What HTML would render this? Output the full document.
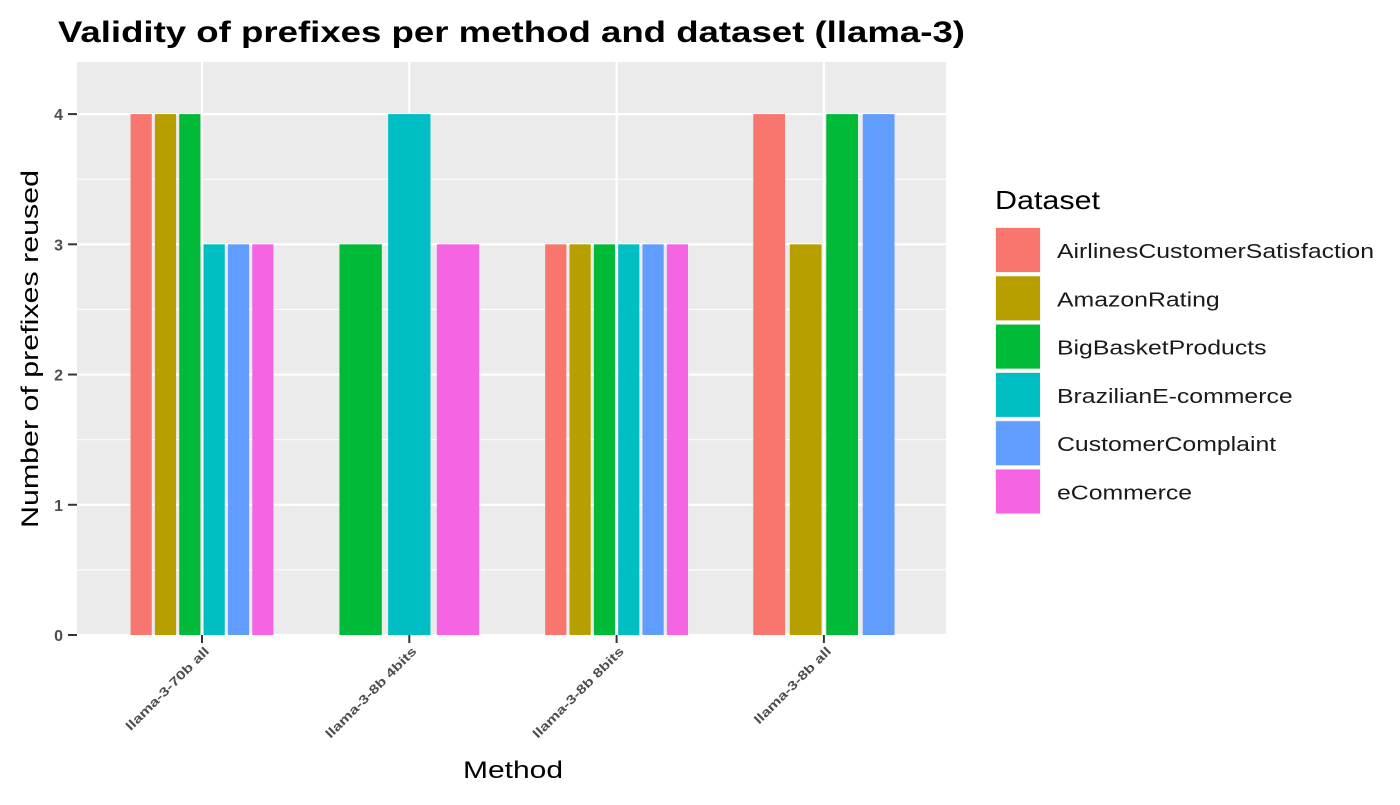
<!DOCTYPE html>
<html><head><meta charset="utf-8"><style>
body{margin:0;background:#fff;}
svg text{font-family:"Liberation Sans",Arial,sans-serif;}
</style></head><body>
<svg id="chart" width="1400" height="800" xmlns="http://www.w3.org/2000/svg">
<rect width="1400" height="800" fill="#fff"/>
<text x="58" y="42" font-size="30" font-weight="bold" fill="#000" textLength="907" lengthAdjust="spacingAndGlyphs">Validity of prefixes per method and dataset (llama-3)</text>
<rect x="77" y="62" width="869" height="573" fill="#EBEBEB"/>
<g id="grid"></g>
<g id="bars"></g>
<g id="axes"></g>
<text transform="translate(38,349) rotate(-90)" text-anchor="middle" font-size="24" fill="#000" textLength="358" lengthAdjust="spacingAndGlyphs">Number of prefixes reused</text>
<text x="513" y="778" text-anchor="middle" font-size="24" fill="#000" textLength="100" lengthAdjust="spacingAndGlyphs">Method</text>
<g id="legend"></g>
</svg>
<script>
const categories = ["llama-3-70b all","llama-3-8b 4bits","llama-3-8b 8bits","llama-3-8b all"];
const datasets = ["AirlinesCustomerSatisfaction","AmazonRating","BigBasketProducts","BrazilianE-commerce","CustomerComplaint","eCommerce"];
const colors = ["#F8766D","#B79F00","#00BA38","#00BFC4","#619CFF","#F564E3"];
const airlines = [4,null,3,4];
const amazon = [4,null,3,3];
const bigbasket = [4,3,3,4];
const brazilian = [3,4,3,null];
const complaint = [3,null,3,4];
const ecommerce = [3,3,3,null];
const yTicks = [0,1,2,3,4];
const series = [airlines,amazon,bigbasket,brazilian,complaint,ecommerce];

const NS="http://www.w3.org/2000/svg";
const px0=77, px1=946, py0=635, yMax=4.4, yTop=62;
const step=207.3;
const xC=i=>202+step*i;
const yS=v=>py0-(v/yMax)*(py0-yTop);
const TS=1.4;
function mk(tag,attrs,parent){const e=document.createElementNS(NS,tag);for(const k in attrs)e.setAttribute(k,attrs[k]);parent.appendChild(e);return e;}
function stretch(t,f){const w=t.getComputedTextLength();t.setAttribute('textLength',w*f);t.setAttribute('lengthAdjust','spacingAndGlyphs');}
const grid=document.getElementById('grid'), bars=document.getElementById('bars'), axes=document.getElementById('axes'), legend=document.getElementById('legend');
for(let v=0.5; v<yMax; v+=1){const g=mk('line',{x1:px0,x2:px1,y1:yS(v),y2:yS(v),stroke:'#fff','stroke-width':1},grid);

}
yTicks.forEach(v=>{const g=mk('line',{x1:px0,x2:px1,y1:yS(v),y2:yS(v),stroke:'#fff','stroke-width':2.2},grid);


const t=mk('text',{x:63,y:yS(v)+6,'text-anchor':'end','font-size':16,'font-weight':'bold',fill:'#4D4D4D'},axes);t.textContent=v;


const tk=mk('line',{x1:68,x2:77,y1:yS(v),y2:yS(v),stroke:'#333','stroke-width':2},axes);

});
categories.forEach((c,i)=>{const g=mk('line',{x1:xC(i),x2:xC(i),y1:yTop,y2:py0,stroke:'#fff','stroke-width':2.2},grid);


const tk=mk('line',{x1:xC(i),x2:xC(i),y1:py0,y2:py0+8,stroke:'#333','stroke-width':2},axes);


const t=mk('text',{transform:`translate(${xC(i)+8},${py0+17}) rotate(-45)`,'text-anchor':'end','font-size':12.5,'font-weight':'bold',fill:'#4D4D4D'},axes);t.textContent=c;


stretch(t,1.3);
const present=series.map((s,k)=>[k,s[i]]).filter(p=>p[1]!==null);
const gw=146, slot=gw/present.length, bw=slot*0.87;
present.forEach(([k,v],j)=>{const x=xC(i)-gw/2+slot*j+(slot-bw)/2;
const r=mk('rect',{x:x,y:yS(v),width:bw,height:py0-yS(v),fill:colors[k]},bars);

});});
const lt=mk('text',{x:995,y:209,'font-size':26,fill:'#000',textLength:105,lengthAdjust:'spacingAndGlyphs'},legend);lt.textContent='Dataset';


datasets.forEach((d,k)=>{const y=227+k*48.3;
const bg=mk('rect',{x:995,y:y,width:46,height:46,fill:'#F2F2F2'},legend);


const r=mk('rect',{x:996,y:y+1,width:44,height:44,fill:colors[k]},legend);


const t=mk('text',{x:1057,y:y+31,'font-size':20,fill:'#1a1a1a'},legend);t.textContent=d;


stretch(t,1.24);});
</script>
</body></html>
